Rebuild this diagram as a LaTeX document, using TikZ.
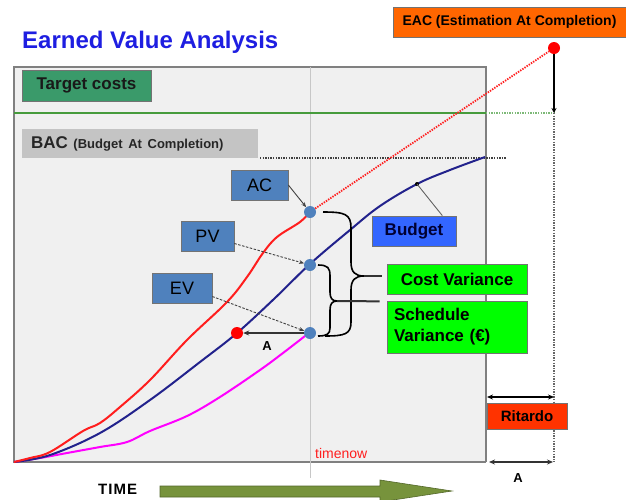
\documentclass[tikz,border=0pt]{standalone}
\usepackage{fontspec}
\setmainfont{Liberation Sans}
\usetikzlibrary{arrows.meta,calc}
\definecolor{plotbg}{RGB}{240,240,240}
\definecolor{plotedge}{RGB}{128,128,128}
\definecolor{tgreen}{RGB}{58,154,106}
\definecolor{lgreen}{RGB}{70,155,60}
\definecolor{bacgray}{RGB}{196,196,196}
\definecolor{boxblue}{RGB}{79,129,189}
\definecolor{budblue}{RGB}{51,102,255}
\definecolor{budtext}{RGB}{0,0,50}
\definecolor{navy}{RGB}{34,34,140}
\definecolor{cred}{RGB}{255,30,30}
\definecolor{cmag}{RGB}{255,0,255}
\definecolor{vgreen}{RGB}{0,255,0}
\definecolor{eacor}{RGB}{255,102,0}
\definecolor{ritor}{RGB}{255,51,0}
\definecolor{titleblue}{RGB}{30,30,225}
\definecolor{timegreen}{RGB}{119,147,60}
\begin{document}
\begin{tikzpicture}[x=1pt,y=-1pt,
  box/.style={draw=black!55, line width=0.7pt, inner sep=0pt, font=\bfseries\fontsize{17}{20}\selectfont},
  lbox/.style={draw=black!55, line width=0.7pt, inner sep=0pt, font=\fontsize{18}{20}\selectfont, fill=boxblue, minimum height=30pt},
  dot/.style={circle, fill=boxblue, inner sep=0pt, minimum size=12pt},
  rdot/.style={circle, fill=red, inner sep=0pt, minimum size=12pt},
  ptr/.style={draw=black!75, line width=0.9pt, -{Stealth[length=5pt,width=4pt]}},
  dptr/.style={ptr, dash pattern=on 2.5pt off 1.5pt},
  bracel/.style={draw=black, line width=1.6pt},
  dbl/.style={line width=1.6pt, {Stealth[length=6pt,width=5pt]}-{Stealth[length=6pt,width=5pt]}},
  curve/.style={line width=2pt, line join=round}
]
\useasboundingbox (0,0) rectangle (626,499);

% title
\node[anchor=west, inner sep=0pt, text=titleblue, font=\bfseries\fontsize{24}{28}\selectfont] (title) at (22,42) {Earned Value Analysis};

% plot area
\fill[plotbg] (14,67) rectangle (486,462);
\draw[plotedge, line width=1.2pt] (486,462) -- (14,462) -- (14,67) -- (486,67) -- (486,462);

% timenow line
\coordinate (tnTop) at (310,67);
\coordinate (tnBot) at (310,478);
\draw[black!22, line width=0.9pt] (tnTop) -- (tnBot);
\node[anchor=west, inner sep=0pt, text=cred, font=\fontsize{14}{16}\selectfont] (timenow) at (315,453) {timenow};

% target cost line
\coordinate (tgL) at (14,113);
\coordinate (tgR) at (486,113);
\coordinate (eacbase) at (554,113);
\draw[lgreen, line width=1.8pt] (tgL) -- (tgR);
\draw[lgreen!70, line width=1.8pt, dash pattern=on 1.4pt off 1.2pt] (tgR) -- (eacbase);

% BAC dotted line
\coordinate (bacL) at (260,158);
\coordinate (bacR) at (506,158);
\draw[black!75, line width=1.8pt, dash pattern=on 1.4pt off 1.2pt] (bacL) -- (bacR);

% curves
\coordinate (O) at (14,462);
\draw[cmag, curve] plot[smooth, tension=0.6] coordinates {(14,462) (40,458) (67,453) (100,447) (127,442) (150,431) (187,416) (220,397) (260,370) (283,353) (305,336)};
\draw[navy, curve] plot[smooth, tension=0.6] coordinates {(14,462) (50,455) (100,433) (150,400) (200,362) (237,333) (275,298) (310,264) (350,230) (380,206) (417,184) (450,170) (485,157)};
\draw[cred, curve] plot[smooth, tension=0.6] coordinates {(14,462) (30,458) (50,452) (83,431) (100,423) (120,407) (150,380) (187,340) (227,302) (247,277) (263,253) (277,237) (300,222) (310,212)};

% points
\node[dot] (pAC) at (310,212) {};
\node[dot] (pPV) at (310,265) {};
\node[dot] (pEV) at (310,333) {};
\node[rdot] (rA) at (237,333) {};
\node[rdot] (eacpt) at (554,48) {};

% EAC projection
\draw[cred, line width=1.8pt, dash pattern=on 1.4pt off 1.2pt] (pAC) -- (eacpt);
\draw[black, line width=1.6pt, -{Stealth[length=5pt,width=5pt]}] (eacpt) -- (eacbase);
\coordinate (vBot) at (554,462);
\draw[black!60, line width=1.8pt, dash pattern=on 1.4pt off 1.2pt] (eacbase) -- (vBot);

% A arrow
\draw[black!80, line width=1.6pt, -{Stealth[length=6pt,width=5pt]}] (pEV) -- (rA);
\node[font=\bfseries\fontsize{13}{15}\selectfont, inner sep=0pt] (lblA) at (267,346) {A};

% labels boxes
\node[box, fill=tgreen, minimum width=129pt, minimum height=31pt, text=black!90] (target) at (86.5,85.5) {Target costs};
\node[box, fill=bacgray, draw=none, minimum height=29pt, inner xsep=9pt, text width=218pt, align=left, text=black!85] (bac) at (140,143.5) {BAC {\fontsize{13}{15}\selectfont(Budget At Completion)}};
\node[box, fill=eacor, minimum width=233pt, minimum height=30pt, font=\bfseries\fontsize{14}{16}\selectfont] (eac) at (509.5,22) {EAC (Estimation At Completion)};

\node[lbox, minimum width=57pt] (ac) at (259.5,185) {AC};
\node[lbox, minimum width=53pt] (pv) at (207.5,236.5) {PV};
\node[lbox, minimum width=60pt] (ev) at (182,288.5) {EV};
\draw[ptr] (ac.east) -- (pAC);
\draw[dptr] ($(pv.east)+(0,7)$) -- (pPV);
\draw[dptr] ($(ev.east)+(0,8)$) -- (pEV);

\node[box, fill=budblue, minimum width=84pt, minimum height=30pt, text=budtext] (budget) at (414,231) {Budget};
\coordinate (bpt) at (417,184);
\fill[black] (bpt) circle (2pt);
\draw[black!60, line width=0.9pt] ($(budget.north east)+(-14,0)$) -- (bpt);

% braces
\draw[bracel] (323,212) .. controls (345,212) and (351,214) .. (351,228) -- (351,262) .. controls (351,272) and (355,276) .. (364,276) .. controls (355,276) and (351,280) .. (351,290) -- (351,322) .. controls (351,334) and (345,336) .. (325,336);
\coordinate (cvTip) at (364,276);
\draw[bracel] (318,265) .. controls (328,265) and (330,268) .. (330,276) -- (330,292) .. controls (330,298) and (332,301) .. (337,301) .. controls (332,301) and (330,304) .. (330,310) -- (330,328) .. controls (330,334) and (327,336) .. (318,336);
\coordinate (svTip) at (337,301);

\node[box, fill=vgreen, minimum width=140pt, minimum height=30pt] (cv) at (457,279) {Cost Variance};
\node[box, fill=vgreen, minimum height=52pt, inner xsep=7pt, text width=126pt, align=left, font=\bfseries\fontsize{17}{21}\selectfont] (sv) at (457,327) {Schedule\\Variance (€)};
\draw[black!80, line width=2pt] (cvTip) -- ($(cv.west)+(-5,-3)$);
\draw[black!80, line width=2pt] (svTip) -- ($(cv.south west)+(-7,7)$);

% delay
\coordinate (r1) at (487,397);
\coordinate (r2) at (554,397);
\draw[black, dbl] (r1) -- (r2);
\node[box, fill=ritor, minimum width=80pt, minimum height=26pt, font=\bfseries\fontsize{15}{17}\selectfont] (rit) at (527,416) {Ritardo};
\coordinate (a1) at (489,462);
\coordinate (a2) at (553,462);
\draw[black!80, line width=1.4pt, {Stealth[length=6pt,width=5pt]}-{Stealth[length=6pt,width=5pt]}] (a1) -- (a2);
\node[font=\bfseries\fontsize{13}{15}\selectfont, inner sep=0pt] (lblA2) at (518,478) {A};

% time arrow
\node[anchor=west, inner sep=0pt, font=\bfseries\fontsize{15}{17}\selectfont] (time) at (98,489) {T\kern1pt I\kern1pt M\kern1pt E};
\draw[timegreen!70!black, fill=timegreen, line width=0.6pt] (160,486) -- (380,486) -- (380,480) -- (452,491) -- (380,502) -- (380,497) -- (160,497) -- cycle;
\end{tikzpicture}
\end{document}
